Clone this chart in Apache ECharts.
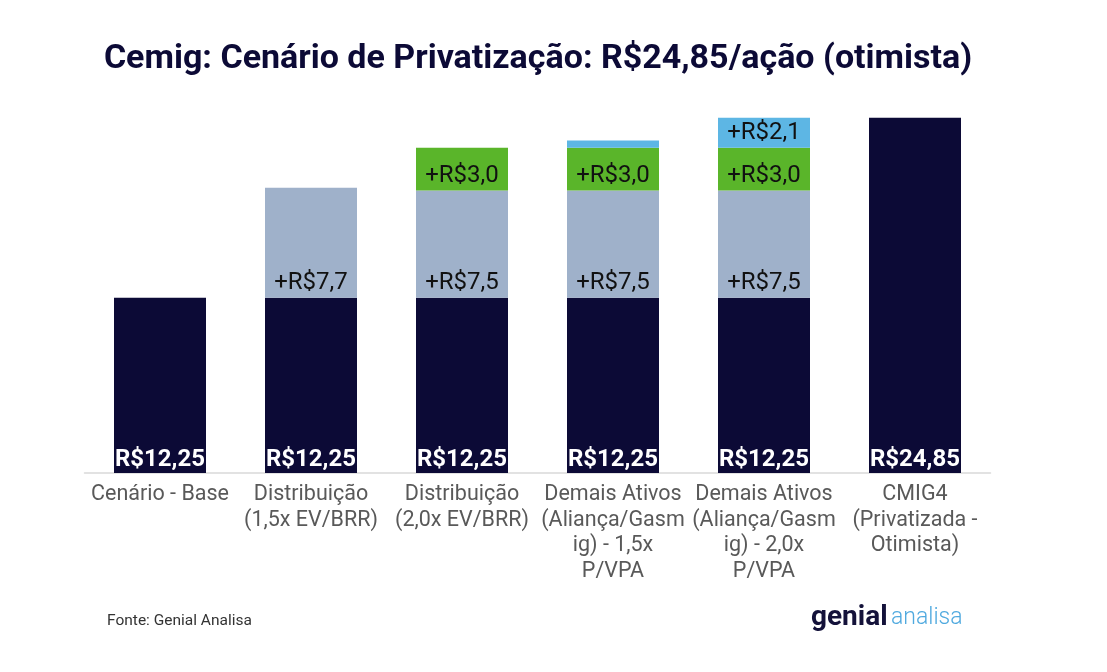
<!DOCTYPE html>
<html><head><meta charset="utf-8">
<script src="https://cdn.jsdelivr.net/npm/echarts@6/dist/echarts.min.js"></script>
<style>html,body{margin:0;padding:0;background:#fff}#c{width:1107px;height:672px}</style>
</head><body><div id="c"></div>
<script>
const categories = ["Cenário - Base", "Distribuição\n(1,5x EV/BRR)", "Distribuição\n(2,0x EV/BRR)", "Demais Ativos\n(Aliança/Gasm\nig) - 1,5x\nP/VPA", "Demais Ativos\n(Aliança/Gasm\nig) - 2,0x\nP/VPA", "CMIG4\n(Privatizada -\nOtimista)"];
const baseValues = [12.25, 12.25, 12.25, 12.25, 12.25, null];
const distValues = [null, 7.7, 7.5, 7.5, 7.5, null];
const dist2Values = [null, null, 3.0, 3.0, 3.0, null];
const ativosValues = [null, null, null, 0.5, 2.1, null];
const totalValues = [null, null, null, null, null, 24.85];

const fmt = v => v.toFixed(2).replace('.', ',');
const fmt1 = v => v.toFixed(1).replace('.', ',');
const chart = echarts.init(document.getElementById('c'));
const incLabel = {
  show: true, position: 'insideBottom', distance: 3,
  color: '#111', fontSize: 24, fontFamily: 'Roboto',
  formatter: p => (p.value >= 1 ? '+R$' + fmt1(p.value) : '')
};
const totLabel = { show: true, position: 'insideBottom', distance: 1, color: '#fff', fontWeight: 'bold', fontSize: 24, fontFamily: 'Roboto',
  formatter: p => 'R$' + fmt(p.value) };
chart.setOption({
  animation: false,
  title: {
    text: 'Cemig: Cenário de Privatização: R$24,85/ação (otimista)',
    left: 533, textAlign: 'center', top: 37,
    textStyle: { fontFamily: 'Roboto', fontWeight: 'bold', fontSize: 34, color: '#0c0a36' }
  },
  grid: { left: 84.5, right: 116.5, top: 115.5, bottom: 199 },
  xAxis: {
    type: 'category', data: categories,
    axisLine: { lineStyle: { color: '#d9d9d9', width: 1.5 } },
    axisTick: { show: false },
    axisLabel: { color: '#595959', fontSize: 21.5, fontFamily: 'Roboto', lineHeight: 25.5, margin: 9, interval: 0 }
  },
  yAxis: { type: 'value', min: 0, max: 25, show: false, splitLine: { show: false } },
  series: [
    { name: 'Base', type: 'bar', stack: 's', data: baseValues, barWidth: 92,
      itemStyle: { color: '#0c0a36' }, label: totLabel },
    { name: 'Dist', type: 'bar', stack: 's', data: distValues, barWidth: 92,
      itemStyle: { color: '#9fb1ca' }, label: incLabel },
    { name: 'Dist2', type: 'bar', stack: 's', data: dist2Values, barWidth: 92,
      itemStyle: { color: '#5ab52a' }, label: incLabel },
    { name: 'Ativos', type: 'bar', stack: 's', data: ativosValues, barWidth: 92,
      itemStyle: { color: '#5db6e4' }, label: incLabel },
    { name: 'Total', type: 'bar', stack: 's', data: totalValues, barWidth: 92,
      itemStyle: { color: '#0c0a36' }, label: totLabel }
  ],
  graphic: [
    { type: 'text', left: 107, top: 613, style: { text: 'Fonte: Genial Analisa', fill: '#333', font: '15.5px Roboto' } },
    { type: 'text', left: 811, top: 604, style: {
        text: '{a|genial} {b|analisa}',
        rich: {
          a: { fill: '#14123a', fontSize: 28, fontWeight: 'bold', fontFamily: 'Roboto' },
          b: { fill: '#4fa9df', fontSize: 23, fontFamily: 'Roboto', fontWeight: 300 }
        } } }
  ]
});
</script></body></html>
